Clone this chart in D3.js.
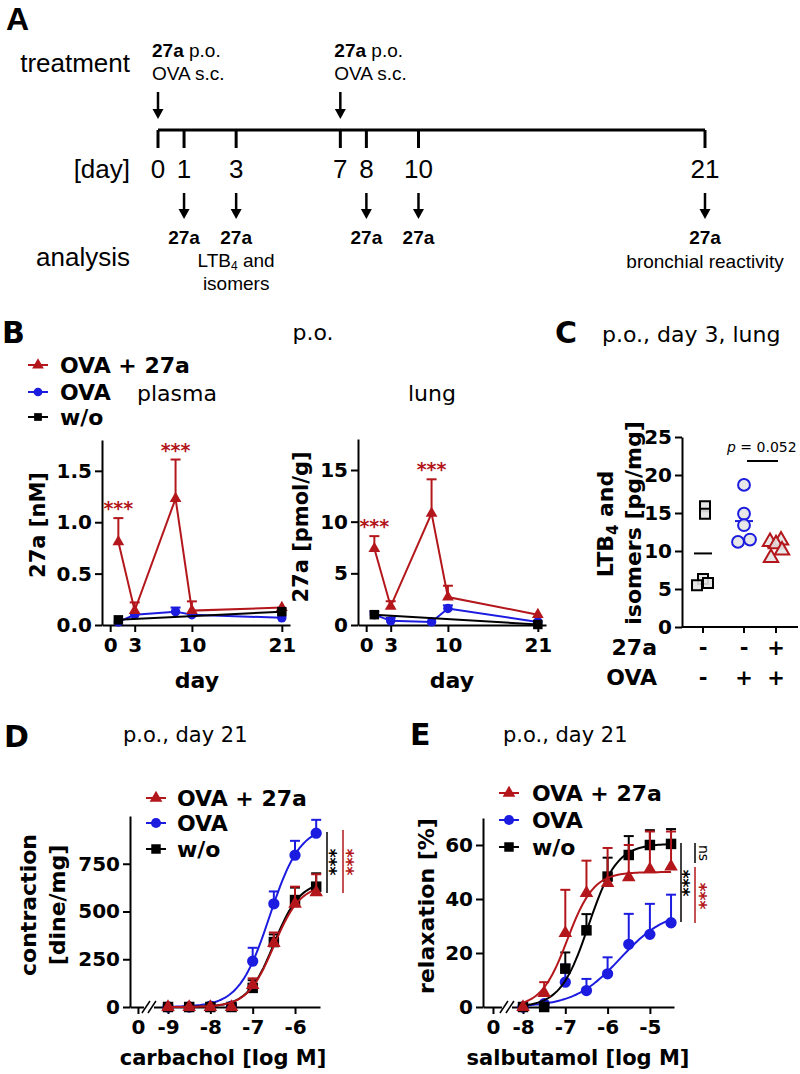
<!DOCTYPE html>
<html>
<head>
<meta charset="utf-8">
<script src="https://cdn.jsdelivr.net/npm/d3@7"></script>
<style>
body { margin: 0; background: #fff; }
text { font-family: "DejaVu Sans", sans-serif; }
</style>
</head>
<body>
<svg id="chart" width="800" height="1074"></svg>
<script>
const svg = d3.select("#chart");
const RED = "#b3171c", BLUE = "#1c1ce0", BLACK = "#000";
const ARIAL = '"Liberation Sans",Arial,sans-serif';

// ---- A: study timeline
const timelineDays = [0, 1, 3, 7, 8, 10, 21];
const treatmentDays = [0, 7];
const analysisDays = [1, 3, 8, 10, 21];

// ---- B: 27a levels after p.o. dosing
const bDays = [1, 3, 8, 10, 21];
const bBlackDays = [1, 21];
const plasmaRed = [0.81, 0.14, 1.23, 0.14, 0.17];
const plasmaRedErr = [0.23, 0.08, 0.38, 0.09, 0];
const plasmaBlue = [0.03, 0.10, 0.13, 0.10, 0.07];
const plasmaBlueErr = [0, 0, 0.04, 0, 0];
const plasmaBlack = [0.05, 0.13];
const lungRed = [7.4, 1.8, 10.8, 2.7, 1.0];
const lungRedErr = [1.2, 0.5, 3.3, 1.1, 0];
const lungBlue = [1.0, 0.4, 0.3, 1.6, 0.3];
const lungBlueErr = [0.3, 0.3, 0, 0.3, 0];
const lungBlack = [1.0, 0.05];

// ---- C: LTB4 and isomers, day 3 lung
const cGroups = ["w/o", "OVA", "OVA + 27a"];
const cSign27a = ["-", "-", "+"];
const cSignOVA = ["-", "+", "+"];
const cBlack = [15.9, 14.9, 6.3, 5.5, 5.8];
const cBlue = [18.7, 14.9, 13.4, 11.2, 11.5];
const cRed = [11.2, 11.4, 10.9, 10.1, 9.1];

// ---- D: carbachol contraction
const dConc = [-9, -8.5, -8, -7.5, -7, -6.5, -6, -5.5];
const dRed = [0, 0, 0, 0, 115, 335, 540, 600];
const dRedErr = [0, 0, 0, 0, 35, 55, 90, 95];
const dBlue = [0, 0, 5, 5, 240, 540, 795, 910];
const dBlueErr = [0, 0, 0, 0, 70, 65, 75, 70];
const dBlack = [0, 0, 0, 0, 100, 340, 560, 630];
const dBlackErr = [0, 0, 0, 0, 40, 40, 65, 70];
// fit parameters: top, logEC50, hill slope
const dFitRed = [640, -6.5, 1.4];
const dFitBlue = [950, -6.6, 1.2];
const dFitBlack = [660, -6.5, 1.4];

// ---- E: salbutamol relaxation
const eConc = [-8, -7.5, -7, -6.5, -6, -5.5, -5, -4.5];
const eRed = [0, 5.2, 27.4, 42.2, 45.9, 48, 51, 52];
const eRedErr = [0, 4, 16, 12, 13, 12, 14, 13];
const eBlack = [0, 0, 14.2, 28.4, 48.3, 56.3, 60, 60.4];
const eBlackErr = [0, 0, 6, 6, 7, 7, 5.5, 5.5];
const eBlue = [0, 1.2, 9.2, 6.1, 12.3, 23.2, 26.9, 31.2];
const eBlueErr = [0, 0, 6.5, 4.3, 6.1, 11.3, 11.3, 10.4];
const eFitRed = [50, -6.95, 1.4];
const eFitBlack = [60.5, -6.45, 1.3];
const eFitBlue = [36, -5.7, 0.8];

function hill(p, v){ return p[0] / (1 + Math.pow(10, (p[1] - v) * p[2])); }
function fitPath(p, lo, hi){ return d3.range(lo, hi + 0.001, 0.05).map(v => [v, hill(p, v)]); }

function txt(x, y, s, size, opts){
  opts = opts || {};
  return svg.append("text").attr("x", x).attr("y", y)
    .attr("text-anchor", opts.anchor || "start")
    .style("font-size", size + "px")
    .style("font-weight", opts.bold ? "bold" : "normal")
    .style("font-family", opts.family || null)
    .attr("fill", opts.color || "#000")
    .text(s);
}
function vtxt(x, y, s, size, opts){
  opts = opts || {};
  return svg.append("text").attr("transform", `translate(${x},${y}) rotate(${opts.rot || -90})`)
    .attr("text-anchor", "middle")
    .style("font-size", size + "px")
    .style("font-weight", opts.bold === false ? "normal" : "bold")
    .attr("fill", opts.color || "#000")
    .text(s);
}

function styleAxis(g){
  g.attr("font-family", null).attr("font-size", null);
  g.select(".domain").attr("stroke-width", 2);
  g.selectAll(".tick line").attr("stroke-width", 2);
  g.selectAll(".tick text").style("font-size", "20px").style("font-weight", "bold").attr("fill", "#000");
}
function yAxis(x0, y, ticks, fmt){
  const g = svg.append("g").attr("transform", `translate(${x0},0)`)
    .call(d3.axisLeft(y).tickValues(ticks).tickFormat(fmt || d3.format("d")).tickSize(7).tickSizeOuter(0).tickPadding(3));
  styleAxis(g);
  return g;
}
function xAxis(y0, x, ticks, fmt){
  const g = svg.append("g").attr("transform", `translate(0,${y0})`)
    .call(d3.axisBottom(x).tickValues(ticks).tickFormat(fmt || d3.format("d")).tickSize(7).tickSizeOuter(0).tickPadding(6));
  styleAxis(g);
  return g;
}

function series(x, y, xs, ys, errs, color, sym, size, curve){
  const pts = xs.map((v, i) => ({x: v, y: ys[i], e: errs ? errs[i] : 0}));
  const line = d3.line().x(d => x(d[0])).y(d => y(d[1]));
  const path = curve || pts.map(d => [d.x, d.y]);
  svg.append("path").attr("d", line(path)).attr("fill", "none").attr("stroke", color).attr("stroke-width", 2);
  pts.filter(d => d.e > 0).forEach(d => {
    svg.append("line").attr("x1", x(d.x)).attr("x2", x(d.x)).attr("y1", y(d.y)).attr("y2", y(d.y + d.e))
      .attr("stroke", color).attr("stroke-width", 2);
    svg.append("line").attr("x1", x(d.x) - 5).attr("x2", x(d.x) + 5).attr("y1", y(d.y + d.e)).attr("y2", y(d.y + d.e))
      .attr("stroke", color).attr("stroke-width", 2);
  });
  svg.append("g").selectAll("path").data(pts).enter().append("path")
    .attr("d", d3.symbol().type(sym).size(size))
    .attr("transform", d => `translate(${x(d.x)},${y(d.y)})`)
    .attr("fill", color);
}

function legend(x0, xt, rows){
  rows.forEach(r => {
    svg.append("line").attr("x1", x0 - 10).attr("x2", x0 + 10).attr("y1", r.y).attr("y2", r.y)
      .attr("stroke", r.color).attr("stroke-width", 2);
    svg.append("path").attr("d", d3.symbol().type(r.sym).size(r.size || 60))
      .attr("transform", `translate(${x0},${r.y})`).attr("fill", r.color);
    txt(xt, r.y + 8, r.label, 22, {bold: true});
  });
}

function stars(x, y, color, size){
  // vertical "***" read top to bottom
  vtxt(x - 0.55 * size, y, "***", size, {rot: 90, color: color});
}

function axisBreak(x, y0){
  svg.append("rect").attr("x", x - 5).attr("y", y0 - 2).attr("width", 10).attr("height", 4).attr("fill", "#fff");
  [-3, 3].forEach(o => {
    svg.append("line").attr("x1", x + o - 4).attr("x2", x + o + 4).attr("y1", y0 + 6).attr("y2", y0 - 6)
      .attr("stroke", "#000").attr("stroke-width", 1.5);
  });
}

// ================= A =================
txt(6, 30, "A", 32, {bold: true, family: ARIAL});
const xA = d3.scaleLinear().domain([0, 21]).range([158, 705]);
const yT = 130;
svg.append("line").attr("x1", xA(0)).attr("x2", xA(21)).attr("y1", yT).attr("y2", yT)
  .attr("stroke", "#000").attr("stroke-width", 3);
timelineDays.forEach(d => {
  svg.append("line").attr("x1", xA(d)).attr("x2", xA(d)).attr("y1", yT).attr("y2", yT + 18)
    .attr("stroke", "#000").attr("stroke-width", 3);
  txt(xA(d), 178, d, 26, {anchor: "middle", family: ARIAL});
});
function arrow(x, y1, y2){
  svg.append("line").attr("x1", x).attr("x2", x).attr("y1", y1).attr("y2", y2 - 8)
    .attr("stroke", "#000").attr("stroke-width", 2.5);
  svg.append("path").attr("d", `M${x - 5.5},${y2 - 10}L${x + 5.5},${y2 - 10}L${x},${y2}Z`).attr("fill", "#000");
}
txt(130, 72, "treatment", 26, {anchor: "end", family: ARIAL});
txt(130, 178, "[day]", 26, {anchor: "end", family: ARIAL});
txt(130, 266, "analysis", 26, {anchor: "end", family: ARIAL});
treatmentDays.forEach(d => {
  arrow(xA(d), 92, 119);
  const t = txt(xA(d) - 6, 57, "", 19, {family: ARIAL});
  t.append("tspan").style("font-weight", "bold").text("27a");
  t.append("tspan").text(" p.o.");
  txt(xA(d) - 6, 80, "OVA s.c.", 19, {family: ARIAL});
});
analysisDays.forEach(d => {
  arrow(xA(d), 193, 219);
  txt(xA(d), 244, "27a", 19, {anchor: "middle", bold: true, family: ARIAL});
});
const ltb = txt(xA(3), 267, "LTB", 19, {anchor: "middle", family: ARIAL});
ltb.append("tspan").attr("dy", 3).style("font-size", "12px").text("4");
ltb.append("tspan").attr("dy", -3).text(" and");
txt(xA(3), 290, "isomers", 19, {anchor: "middle", family: ARIAL});
txt(xA(21), 268, "bronchial reactivity", 19, {anchor: "middle", family: ARIAL});

// ================= B =================
txt(2, 343, "B", 30, {bold: true});
txt(313, 340, "p.o.", 22, {anchor: "middle"});
legend(38, 60, [
  {label: "OVA + 27a", color: RED, sym: d3.symbolTriangle, y: 365},
  {label: "OVA", color: BLUE, sym: d3.symbolCircle, y: 392},
  {label: "w/o", color: BLACK, sym: d3.symbolSquare, y: 417}
]);
txt(137, 401, "plasma", 22);
txt(408, 401, "lung", 22);

const xP = d3.scaleLinear().domain([-1, 22]).range([102, 290]);
const yP = d3.scaleLinear().domain([0, 1.8]).range([625, 440]);
const xL = d3.scaleLinear().domain([-1, 22]).range([358, 546]);
const yL = d3.scaleLinear().domain([0, 18]).range([625, 439]);

yAxis(102, yP, [0, 0.5, 1, 1.5], d3.format(".1f"));
xAxis(625, xP, [0, 3, 10, 21]);
yAxis(358, yL, [0, 5, 10, 15]);
xAxis(625, xL, [0, 3, 10, 21]);
vtxt(45, 525, "27a [nM]", 21);
vtxt(308, 527, "27a [pmol/g]", 21);
txt(197, 688, "day", 22, {anchor: "middle", bold: true});
txt(452, 688, "day", 22, {anchor: "middle", bold: true});

series(xP, yP, bDays, plasmaBlue, plasmaBlueErr, BLUE, d3.symbolCircle, 70);
series(xP, yP, bDays, plasmaRed, plasmaRedErr, RED, d3.symbolTriangle, 60);
series(xP, yP, bBlackDays, plasmaBlack, null, BLACK, d3.symbolSquare, 90);
series(xL, yL, bDays, lungBlue, lungBlueErr, BLUE, d3.symbolCircle, 70);
series(xL, yL, bDays, lungRed, lungRedErr, RED, d3.symbolTriangle, 60);
series(xL, yL, bBlackDays, lungBlack, null, BLACK, d3.symbolSquare, 90);

[[xP, yP, plasmaRed, plasmaRedErr], [xL, yL, lungRed, lungRedErr]].forEach(([x, y, v, e]) => {
  [0, 2].forEach(i => txt(x(bDays[i]), y(v[i] + e[i]) - 3, "***", 19, {anchor: "middle", bold: true, color: RED}));
});

// ================= C =================
txt(555, 343, "C", 30, {bold: true});
txt(602, 342, "p.o., day 3, lung", 22);
const yC = d3.scaleLinear().domain([0, 25]).range([627, 437]);
const xC = d3.scaleOrdinal().domain(cGroups).range([703, 744, 776]);
yAxis(682, yC, [0, 5, 10, 15, 20, 25]);
svg.append("line").attr("x1", 682).attr("x2", 798).attr("y1", 627).attr("y2", 627).attr("stroke", "#000").attr("stroke-width", 2);
cGroups.forEach((g, i) => {
  svg.append("line").attr("x1", xC(g)).attr("x2", xC(g)).attr("y1", 627).attr("y2", 633).attr("stroke", "#000").attr("stroke-width", 2);
  txt(xC(g), 655, cSign27a[i], 21, {anchor: "middle", bold: true});
  txt(xC(g), 685, cSignOVA[i], 21, {anchor: "middle", bold: true});
});
txt(657, 655, "27a", 22, {anchor: "end", bold: true});
txt(657, 685, "OVA", 22, {anchor: "end", bold: true});
const lab1 = svg.append("text").attr("transform", "translate(613,524) rotate(-90)").attr("text-anchor", "middle")
  .style("font-size", "22px").style("font-weight", "bold");
lab1.append("tspan").text("LTB");
lab1.append("tspan").attr("dy", 5).style("font-size", "15px").text("4");
lab1.append("tspan").attr("dy", -5).text(" and");
vtxt(641, 523, "isomers [pg/mg]", 22);

const cJitter = [[2, 2, 0, -6, 5], [0, 0, 0, -6, 6], [-6, 5, 0, 6, -5]];
[[cBlack, BLACK, d3.symbolSquare, 100], [cBlue, BLUE, d3.symbolCircle, 110], [cRed, RED, d3.symbolTriangle, 90]].forEach(([vals, color, sym, size], gi) => {
  const cx = xC(cGroups[gi]);
  const m = d3.mean(vals);
  svg.append("line").attr("x1", cx - 9).attr("x2", cx + 9).attr("y1", yC(m)).attr("y2", yC(m))
    .attr("stroke", color).attr("stroke-width", 2);
  svg.append("g").selectAll("path").data(vals).enter().append("path")
    .attr("d", d3.symbol().type(sym).size(size))
    .attr("transform", (d, i) => `translate(${cx + cJitter[gi][i]},${yC(d)})`)
    .attr("fill", "#e4e4e4").attr("fill-opacity", 0.9).attr("stroke", color).attr("stroke-width", 2);
});
const pt = txt(727, 452, "", 14);
pt.append("tspan").style("font-style", "italic").text("p");
pt.append("tspan").text(" = 0.052");
svg.append("line").attr("x1", 747).attr("x2", 778).attr("y1", 461).attr("y2", 461).attr("stroke", "#000").attr("stroke-width", 2);

// ================= D =================
txt(4, 747, "D", 30, {bold: true});
txt(123, 742, "p.o., day 21", 21);
const xD = d3.scaleLinear().domain([-9.898, -5.41]).range([130, 320]);
const yD = d3.scaleLinear().domain([0, 1000]).range([1007, 816]);
const dZero = -9.71;
yAxis(130, yD, [0, 250, 500, 750]);
xAxis(1007, xD, [dZero, -9, -8, -7, -6], d => d === dZero ? "0" : d);
axisBreak(xD(-9.45), 1007);
vtxt(36, 905, "contraction", 22);
vtxt(65, 905, "[dine/mg]", 22);
txt(223, 1065, "carbachol [log M]", 21, {anchor: "middle", bold: true});
series(xD, yD, dConc, dBlue, dBlueErr, BLUE, d3.symbolCircle, 100, fitPath(dFitBlue, -9, -5.5));
series(xD, yD, dConc, dBlack, dBlackErr, BLACK, d3.symbolSquare, 110, fitPath(dFitBlack, -9, -5.5));
series(xD, yD, dConc, dRed, dRedErr, RED, d3.symbolTriangle, 80, fitPath(dFitRed, -9, -5.5));
legend(156, 177, [
  {label: "OVA + 27a", color: RED, sym: d3.symbolTriangle, y: 798, size: 70},
  {label: "OVA", color: BLUE, sym: d3.symbolCircle, y: 823, size: 80},
  {label: "w/o", color: BLACK, sym: d3.symbolSquare, y: 849, size: 90}
]);
svg.append("line").attr("x1", 327).attr("x2", 327).attr("y1", 832).attr("y2", 893).attr("stroke", BLACK).attr("stroke-width", 1.5);
stars(333, 862, BLACK, 17);
svg.append("line").attr("x1", 343).attr("x2", 343).attr("y1", 830).attr("y2", 893).attr("stroke", RED).attr("stroke-width", 1.5);
stars(350, 862, RED, 17);

// ================= E =================
txt(410, 745, "E", 30, {bold: true});
txt(503, 742, "p.o., day 21", 21);
const xE = d3.scaleLinear().domain([-8.946, -4.43]).range([483, 674]);
const yE = d3.scaleLinear().domain([0, 70]).range([1007, 818]);
const eZero = -8.71;
yAxis(483, yE, [0, 20, 40, 60]);
xAxis(1007, xE, [eZero, -8, -7, -6, -5], d => d === eZero ? "0" : d);
axisBreak(xE(-8.38), 1007);
vtxt(434, 906, "relaxation [%]", 22);
txt(578, 1065, "salbutamol [log M]", 21, {anchor: "middle", bold: true});
series(xE, yE, eConc, eBlue, eBlueErr, BLUE, d3.symbolCircle, 100, fitPath(eFitBlue, -8, -4.5));
series(xE, yE, eConc, eBlack, eBlackErr, BLACK, d3.symbolSquare, 110, fitPath(eFitBlack, -8, -4.5));
series(xE, yE, eConc, eRed, eRedErr, RED, d3.symbolTriangle, 80, fitPath(eFitRed, -8, -4.5));
legend(509, 532, [
  {label: "OVA + 27a", color: RED, sym: d3.symbolTriangle, y: 793, size: 70},
  {label: "OVA", color: BLUE, sym: d3.symbolCircle, y: 820, size: 80},
  {label: "w/o", color: BLACK, sym: d3.symbolSquare, y: 847, size: 90}
]);
svg.append("line").attr("x1", 681).attr("x2", 681).attr("y1", 843).attr("y2", 922).attr("stroke", BLACK).attr("stroke-width", 1.5);
stars(686, 883, BLACK, 17);
svg.append("line").attr("x1", 695).attr("x2", 695).attr("y1", 843).attr("y2", 863).attr("stroke", BLACK).attr("stroke-width", 1.5);
vtxt(703 - 0.27 * 14, 853, "ns", 14, {rot: 90, bold: false});
svg.append("line").attr("x1", 695).attr("x2", 695).attr("y1", 867).attr("y2", 923).attr("stroke", RED).attr("stroke-width", 1.5);
stars(703, 896, RED, 17);
</script>
</body>
</html>
